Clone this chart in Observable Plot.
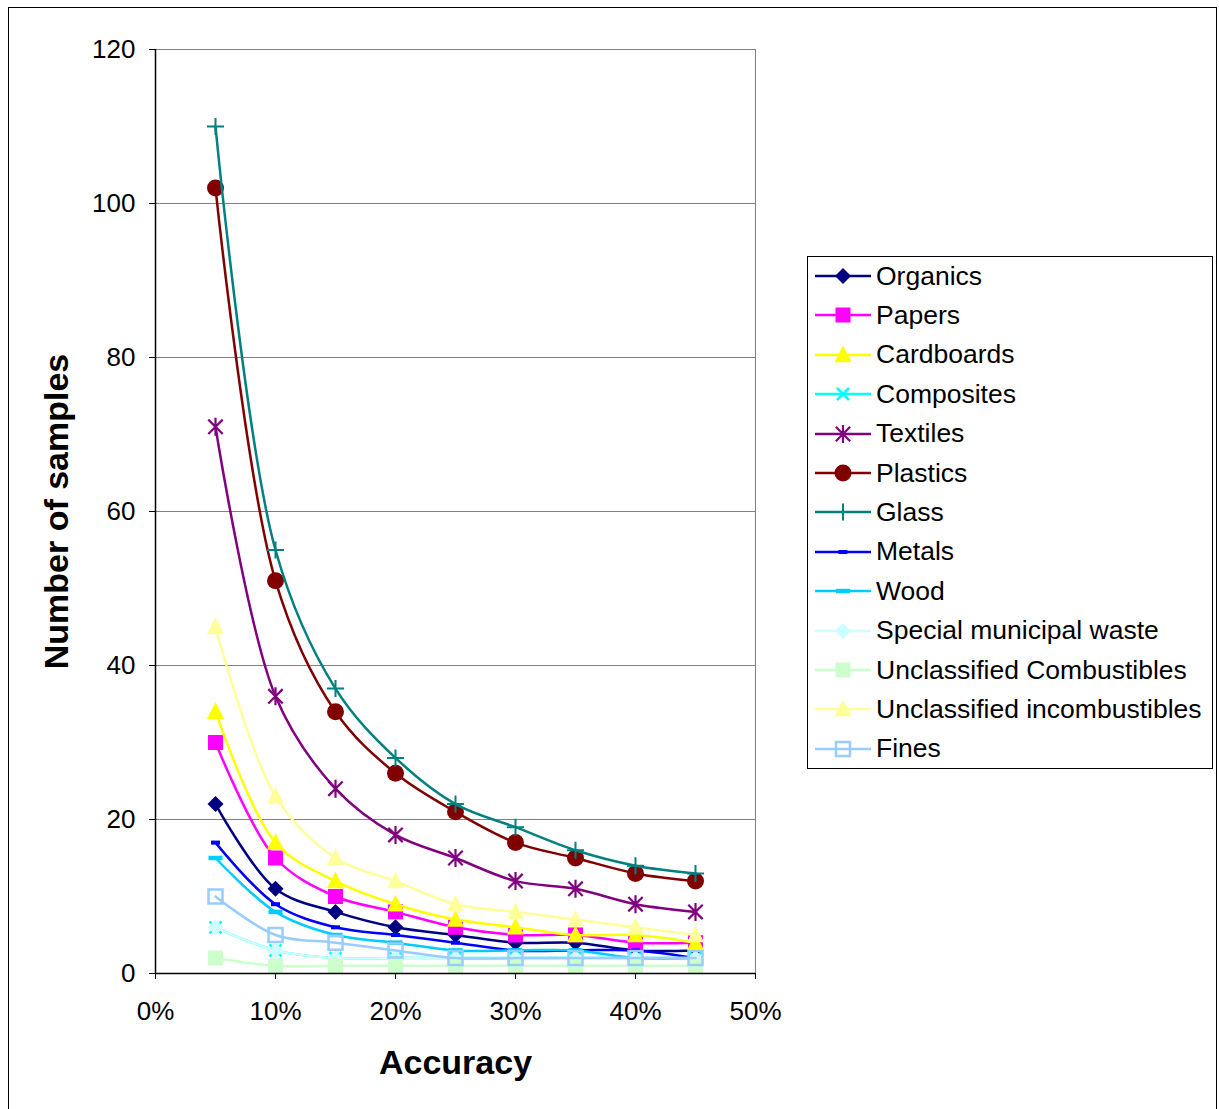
<!DOCTYPE html>
<html>
<head>
<meta charset="utf-8">
<script src="https://cdn.jsdelivr.net/npm/d3@7"></script>
<script src="https://cdn.jsdelivr.net/npm/@observablehq/plot@0.6"></script>
<style>
  html, body { margin: 0; padding: 0; background: #fff; }
  #wrap { position: relative; width: 1219px; height: 1109px; font-family: "Liberation Sans", Arial, sans-serif; }
  #border { position: absolute; left: 8px; top: 7px; width: 1209px; height: 1105px; border: 1px solid #000; box-sizing: border-box; pointer-events: none; }
  #legend { position: absolute; left: 807px; top: 256px; width: 406px; height: 513px; border: 1px solid #000; box-sizing: border-box; background: #fff; }
  .item { position: absolute; left: 0; height: 30px; display: flex; align-items: center; }
  .item span { font-size: 26.5px; color: #000; margin-left: 2px; white-space: nowrap; }
</style>
</head>
<body>
<div id="wrap"><div id="chart"></div><div id="legend"></div><div id="border"></div></div>
<script>
const accuracy = [0.05, 0.10, 0.15, 0.20, 0.25, 0.30, 0.35, 0.40, 0.45];
const seriesNames = ["Organics", "Papers", "Cardboards", "Composites", "Textiles", "Plastics", "Glass", "Metals", "Wood", "Special municipal waste", "Unclassified Combustibles", "Unclassified incombustibles", "Fines"];
const organics = [22, 11, 8, 6, 5, 4, 4, 3, 3];
const papers = [30, 15, 10, 8, 6, 5, 5, 4, 4];
const cardboards = [34, 17, 12, 9, 7, 6, 5, 5, 4];
const composites = [6, 3, 2, 2, 2, 2, 2, 2, 2];
const textiles = [71, 36, 24, 18, 15, 12, 11, 9, 8];
const plastics = [102, 51, 34, 26, 21, 17, 15, 13, 12];
const glass = [110, 55, 37, 28, 22, 19, 16, 14, 13];
const metals = [17, 9, 6, 5, 4, 3, 3, 3, 2];
const wood = [15, 8, 5, 4, 3, 3, 3, 2, 2];
const specialWaste = [6, 3, 2, 2, 2, 2, 2, 2, 2];
const unclassifiedComb = [2, 1, 1, 1, 1, 1, 1, 1, 1];
const unclassifiedIncomb = [45, 23, 15, 12, 9, 8, 7, 6, 5];
const fines = [10, 5, 4, 3, 2, 2, 2, 2, 2];
const yTicks = [0, 20, 40, 60, 80, 100, 120];
const xTicks = [0, 0.1, 0.2, 0.3, 0.4, 0.5];

const rad = s => Math.sqrt(s / Math.PI);
const symbols = {
  diamond: {draw(c, s) { const r = rad(s); c.moveTo(0, -r); c.lineTo(r, 0); c.lineTo(0, r); c.lineTo(-r, 0); c.closePath(); }},
  square: {draw(c, s) { const r = rad(s); c.rect(-r, -r, 2 * r, 2 * r); }},
  triangle: {draw(c, s) { const r = rad(s); c.moveTo(0, -r * 1.05); c.lineTo(r * 0.95, r * 0.8); c.lineTo(-r * 0.95, r * 0.8); c.closePath(); }},
  times: {draw(c, s) { const r = rad(s); c.moveTo(-r, -r); c.lineTo(r, r); c.moveTo(r, -r); c.lineTo(-r, r); }},
  asterisk: {draw(c, s) { const r = rad(s); const d = r * 0.8; c.moveTo(-d, -d); c.lineTo(d, d); c.moveTo(d, -d); c.lineTo(-d, d); c.moveTo(0, -r); c.lineTo(0, r); }},
  circle: {draw(c, s) { const r = rad(s); c.moveTo(r, 0); c.arc(0, 0, r, 0, 2 * Math.PI); }},
  plus: {draw(c, s) { const r = rad(s); c.moveTo(-r, 0); c.lineTo(r, 0); c.moveTo(0, -r); c.lineTo(0, r); }},
  dashThick: {draw(c, s) { const r = rad(s); c.rect(-r, -r * 0.45, 2 * r, r * 0.9); }},
  dashThin: {draw(c, s) { const r = rad(s); c.rect(-r, -r * 0.32, 2 * r, r * 0.64); }}
};

const styles = [
  {values: organics, color: "#000080", symbol: symbols.diamond, r: 8, filled: true},
  {values: papers, color: "#FF00FF", symbol: symbols.square, r: 7.5, filled: true},
  {values: cardboards, color: "#FFFF00", symbol: symbols.triangle, r: 9, filled: true},
  {values: composites, color: "#00FFFF", symbol: symbols.times, r: 6, filled: false, sw: 2.5},
  {values: textiles, color: "#800080", symbol: symbols.asterisk, r: 9, filled: false, sw: 2.2},
  {values: plastics, color: "#800000", symbol: symbols.circle, r: 8.5, filled: true},
  {values: glass, color: "#008080", symbol: symbols.plus, r: 8.5, filled: false, sw: 2},
  {values: metals, color: "#0000FF", symbol: symbols.dashThick, r: 4.5, filled: true},
  {values: wood, color: "#00CCFF", symbol: symbols.dashThin, r: 7, filled: true},
  {values: specialWaste, color: "#CCFFFF", symbol: symbols.diamond, r: 8, filled: true},
  {values: unclassifiedComb, color: "#CCFFCC", symbol: symbols.square, r: 7.5, filled: true},
  {values: unclassifiedIncomb, color: "#FFFF99", symbol: symbols.triangle, r: 9, filled: true},
  {values: fines, color: "#99CCFF", symbol: symbols.square, r: 7, filled: false, sw: 2.5}
];

const marks = [
  Plot.gridY(yTicks.slice(1), {stroke: "#808080", strokeOpacity: 1, strokeWidth: 1}),
  Plot.frame({stroke: "#808080", strokeWidth: 1})
];
styles.forEach((st, i) => {
  const data = accuracy.map((a, j) => ({name: seriesNames[i], x: a, y: st.values[j]}));
  marks.push(Plot.line(data, {x: "x", y: "y", stroke: st.color, strokeWidth: 2.5, curve: "catmull-rom"}));
  marks.push(Plot.dot(data, st.filled
    ? {x: "x", y: "y", symbol: () => st.symbol, r: st.r, fill: st.color, stroke: "none"}
    : {x: "x", y: "y", symbol: () => st.symbol, r: st.r, fill: "none", stroke: st.color, strokeWidth: st.sw}));
});
marks.push(
  Plot.ruleX([0], {stroke: "#000", strokeWidth: 1.5}),
  Plot.ruleY([0], {stroke: "#000", strokeWidth: 1.5}),
  Plot.axisY(yTicks, {tickSize: 6, tickPadding: 14, fontSize: 26, label: null, stroke: "#000"}),
  Plot.axisX(xTicks, {tickSize: 6, tickPadding: 22, fontSize: 26, label: null, tickFormat: d3.format(".0%"), stroke: "#000"}),
  Plot.text(["Number of samples"], {frameAnchor: "left", dx: -98, rotate: -90, textAnchor: "middle", lineAnchor: "middle", fontSize: 34, fontWeight: "bold", fill: "#000"}),
  Plot.text(["Accuracy"], {frameAnchor: "bottom", dy: 90, textAnchor: "middle", lineAnchor: "middle", fontSize: 34, fontWeight: "bold", fill: "#000"})
);

const chart = Plot.plot({
  width: 1219,
  height: 1109,
  marginLeft: 155,
  marginRight: 464,
  marginTop: 49,
  marginBottom: 136,
  style: {fontFamily: "'Liberation Sans', Arial, sans-serif", background: "#fff", color: "#000", overflow: "visible"},
  x: {domain: [0, 0.5]},
  y: {domain: [0, 120]},
  marks
});
document.getElementById("chart").appendChild(chart);

// legend
const legend = d3.select("#legend");
seriesNames.forEach((name, i) => {
  const st = styles[i];
  const item = legend.append("div").attr("class", "item").style("top", (4 + i * 39.4) + "px");
  const svg = item.append("svg").attr("width", 66).attr("height", 30).style("display", "block");
  svg.append("line").attr("x1", 7).attr("x2", 63).attr("y1", 15).attr("y2", 15).attr("stroke", st.color).attr("stroke-width", 2.5);
  const path = d3.symbol(st.symbol, st.r * st.r * Math.PI)();
  const p = svg.append("path").attr("d", path).attr("transform", "translate(35,15)");
  if (st.filled) p.attr("fill", st.color);
  else p.attr("fill", "none").attr("stroke", st.color).attr("stroke-width", st.sw);
  item.append("span").text(name);
});
</script>
</body>
</html>
